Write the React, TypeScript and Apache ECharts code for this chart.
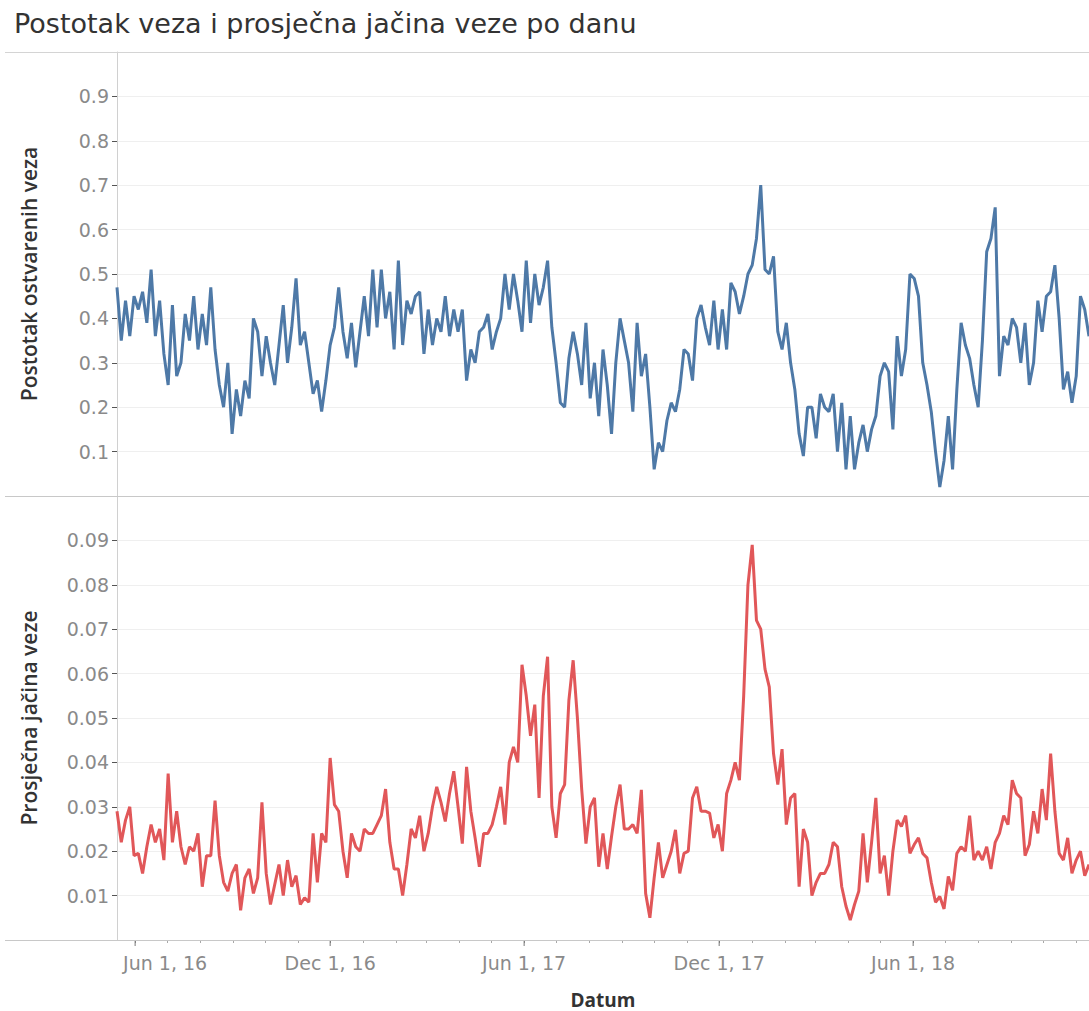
import React, { useEffect, useRef } from "react";
import * as echarts from "echarts";

const TITLE = "Postotak veza i prosječna jačina veze po danu";
const TOP_AXIS_NAME = "Postotak ostvarenih veza";
const BOTTOM_AXIS_NAME = "Prosječna jačina veze";
const X_AXIS_NAME = "Datum";

// Samples every 4 days starting at START_DATE
const START_DATE = "2016-05-15";
const END_DATE = "2018-11-13";
const STEP_DAYS = 4;

const percentConnections = [
  0.47, 0.35, 0.44, 0.36, 0.45, 0.42, 0.46, 0.39, 0.51, 0.36,
  0.44, 0.32, 0.25, 0.43, 0.27, 0.30, 0.41, 0.35, 0.45, 0.33,
  0.41, 0.34, 0.47, 0.33, 0.25, 0.20, 0.30, 0.14, 0.24, 0.18,
  0.26, 0.22, 0.40, 0.37, 0.27, 0.36, 0.30, 0.25, 0.34, 0.43,
  0.30, 0.38, 0.49, 0.34, 0.37, 0.30, 0.23, 0.26, 0.19, 0.26,
  0.34, 0.38, 0.47, 0.37, 0.31, 0.39, 0.29, 0.37, 0.45, 0.36,
  0.51, 0.38, 0.51, 0.40, 0.46, 0.33, 0.53, 0.34, 0.44, 0.41,
  0.45, 0.46, 0.32, 0.42, 0.34, 0.40, 0.37, 0.45, 0.36, 0.42,
  0.37, 0.42, 0.26, 0.33, 0.30, 0.37, 0.38, 0.41, 0.33, 0.37,
  0.40, 0.50, 0.42, 0.50, 0.44, 0.37, 0.53, 0.39, 0.50, 0.43,
  0.47, 0.53, 0.38, 0.30, 0.21, 0.20, 0.31, 0.37, 0.32, 0.25,
  0.39, 0.22, 0.30, 0.18, 0.33, 0.25, 0.14, 0.30, 0.40, 0.35,
  0.30, 0.19, 0.39, 0.27, 0.32, 0.20, 0.06, 0.12, 0.10, 0.17,
  0.21, 0.19, 0.24, 0.33, 0.32, 0.26, 0.40, 0.43, 0.38, 0.34,
  0.44, 0.33, 0.42, 0.33, 0.48, 0.46, 0.41, 0.45, 0.50, 0.52,
  0.58, 0.70, 0.51, 0.50, 0.54, 0.37, 0.33, 0.39, 0.30, 0.24,
  0.14, 0.09, 0.20, 0.20, 0.13, 0.23, 0.20, 0.19, 0.23, 0.10,
  0.21, 0.06, 0.18, 0.06, 0.12, 0.16, 0.10, 0.15, 0.18, 0.27,
  0.30, 0.28, 0.15, 0.36, 0.27, 0.33, 0.50, 0.49, 0.45, 0.30,
  0.25, 0.19, 0.10, 0.02, 0.08, 0.18, 0.06, 0.24, 0.39, 0.34,
  0.31, 0.25, 0.20, 0.35, 0.55, 0.58, 0.65, 0.27, 0.36, 0.34,
  0.40, 0.38, 0.30, 0.39, 0.25, 0.30, 0.44, 0.37, 0.45, 0.46,
  0.52, 0.40, 0.24, 0.28, 0.21, 0.27, 0.45, 0.42, 0.36,
];

const avgStrength = [
  0.029, 0.022, 0.027, 0.030, 0.019, 0.0195, 0.015, 0.021, 0.026, 0.022,
  0.025, 0.018, 0.0375, 0.022, 0.029, 0.021, 0.017, 0.021, 0.020, 0.024,
  0.012, 0.019, 0.019, 0.0314, 0.019, 0.013, 0.011, 0.015, 0.017, 0.0067,
  0.014, 0.016, 0.0105, 0.014, 0.031, 0.015, 0.008, 0.0125, 0.017, 0.010,
  0.018, 0.012, 0.0145, 0.008, 0.0095, 0.0085, 0.024, 0.013, 0.024, 0.022,
  0.041, 0.0305, 0.029, 0.020, 0.014, 0.024, 0.021, 0.020, 0.025, 0.024,
  0.024, 0.026, 0.028, 0.034, 0.022, 0.016, 0.016, 0.010, 0.017, 0.025,
  0.023, 0.028, 0.020, 0.024, 0.030, 0.0345, 0.031, 0.0267, 0.033, 0.038,
  0.030, 0.0217, 0.039, 0.029, 0.023, 0.0165, 0.024, 0.024, 0.026, 0.030,
  0.0345, 0.026, 0.040, 0.0435, 0.040, 0.062, 0.055, 0.046, 0.053, 0.032,
  0.055, 0.0638, 0.030, 0.023, 0.033, 0.035, 0.054, 0.063, 0.050, 0.034,
  0.0217, 0.030, 0.032, 0.0165, 0.024, 0.016, 0.0233, 0.030, 0.035, 0.025,
  0.025, 0.026, 0.024, 0.0338, 0.0105, 0.005, 0.014, 0.022, 0.014, 0.017,
  0.020, 0.0248, 0.015, 0.0195, 0.020, 0.032, 0.0345, 0.029, 0.029, 0.0286,
  0.023, 0.026, 0.020, 0.033, 0.036, 0.040, 0.036, 0.055, 0.080, 0.089,
  0.072, 0.070, 0.061, 0.057, 0.042, 0.035, 0.043, 0.026, 0.032, 0.033,
  0.012, 0.025, 0.022, 0.010, 0.013, 0.015, 0.015, 0.017, 0.022, 0.021,
  0.012, 0.0076, 0.0045, 0.008, 0.011, 0.024, 0.013, 0.022, 0.032, 0.015,
  0.019, 0.010, 0.020, 0.027, 0.0256, 0.028, 0.0195, 0.0215, 0.023, 0.0195,
  0.0185, 0.013, 0.0085, 0.0098, 0.007, 0.0143, 0.0112, 0.0195, 0.021, 0.020,
  0.028, 0.018, 0.020, 0.018, 0.021, 0.016, 0.022, 0.024, 0.028, 0.026,
  0.036, 0.033, 0.032, 0.019, 0.0215, 0.029, 0.024, 0.034, 0.027, 0.042,
  0.029, 0.0195, 0.018, 0.023, 0.015, 0.018, 0.020, 0.0145, 0.017,
];

const TOP_TICK_LABELS = [0.1, 0.2, 0.3, 0.4, 0.5, 0.6, 0.7, 0.8, 0.9];
const BOTTOM_TICK_LABELS = [0.01, 0.02, 0.03, 0.04, 0.05, 0.06, 0.07, 0.08, 0.09];
const MAJOR_X_TICKS = ["2016-06-01", "2016-12-01", "2017-06-01", "2017-12-01", "2018-06-01"];
const MONTHS = ["Jan", "Feb", "Mar", "Apr", "May", "Jun", "Jul", "Aug", "Sep", "Oct", "Nov", "Dec"];

const DAY = 86400000;
const START_TS = Date.parse(START_DATE + "T00:00:00Z");
const END_TS = Date.parse(END_DATE + "T00:00:00Z");
const FIRST_MAJOR_TS = Date.parse(MAJOR_X_TICKS[0] + "T00:00:00Z");
const DATES = percentConnections.map((_, i) => START_TS + i * STEP_DAYS * DAY);

const BLUE = "#4e79a7";
const RED = "#e15759";
const TICK_FONT = "DejaVu Sans";
const LABEL_COLOR = "#8a8a8a";

export default function App() {
  const ref = useRef<HTMLDivElement>(null);

  useEffect(() => {
    if (!ref.current) return;
    const chart = echarts.init(ref.current, undefined, { renderer: "svg" });

    const yLabelStyle = {
      color: LABEL_COLOR,
      fontFamily: TICK_FONT,
      fontSize: 19,
      margin: 8,
    };
    const nameStyle = {
      color: "#333333",
      fontFamily: "Open Sans",
      fontWeight: 600 as any,
      fontSize: 21,
    };

    const option: any = {
      animation: false,
      useUTC: true,
      backgroundColor: "#ffffff",
      title: {
        text: TITLE,
        left: 9,
        top: 5,
        textStyle: {
          fontFamily: TICK_FONT,
          fontSize: 27,
          fontWeight: "normal",
          color: "#333333",
        },
      },
      grid: [
        { left: 117, top: 52, width: 972, height: 444 },
        { left: 117, top: 496, width: 972, height: 444 },
      ],
      xAxis: [
        {
          type: "time",
          gridIndex: 0,
          min: START_TS,
          max: END_TS,
          show: false,
          splitLine: { show: false },
        },
        {
          type: "time",
          gridIndex: 1,
          min: START_TS,
          max: END_TS,
          minInterval: 32 * DAY,
          maxInterval: 32 * DAY,
          axisLine: { show: true, lineStyle: { color: "#d0d0d0", width: 1 } },
          axisTick: { show: true, length: 3, lineStyle: { color: "#a8a8a8" } },
          splitLine: { show: false },
          axisLabel: {
            color: LABEL_COLOR,
            fontFamily: TICK_FONT,
            fontSize: 19,
            margin: 13,
            showMinLabel: false,
            showMaxLabel: false,
            rich: {
              shifted: {
                color: LABEL_COLOR,
                fontFamily: TICK_FONT,
                fontSize: 19,
                padding: [0, 0, 0, 60],
              },
            },
            formatter: (value: number) => {
              const d = new Date(value);
              const m = d.getUTCMonth();
              if (d.getUTCDate() === 1 && (m === 5 || m === 11)) {
                const yy = String(d.getUTCFullYear()).slice(2);
                const txt = `${MONTHS[m]} 1, ${yy}`;
                // first label is pushed inside the pane, as in the original
                if (value === FIRST_MAJOR_TS) return `{shifted|${txt}}`;
                return txt;
              }
              return "";
            },
          },
          name: X_AXIS_NAME,
          nameLocation: "middle",
          nameGap: 50,
          nameTextStyle: { ...nameStyle, fontWeight: 700, fontSize: 19 },
        },
      ],
      yAxis: [
        {
          type: "value",
          gridIndex: 0,
          min: 0,
          max: 1,
          interval: 0.1,
          axisLine: { show: true, lineStyle: { color: "#d0d0d0", width: 1 } },
          axisTick: {
            show: true,
            length: 5,
            lineStyle: { color: "#555555" },
            customValues: [0, ...TOP_TICK_LABELS],
          },
          axisLabel: {
            ...yLabelStyle,
            customValues: TOP_TICK_LABELS,
            formatter: (v: number) => v.toFixed(1),
          },
          splitLine: { show: true, lineStyle: { color: "#efefef", width: 1 } },
          name: TOP_AXIS_NAME,
          nameLocation: "middle",
          nameRotate: 90,
          nameGap: 78,
          nameTextStyle: nameStyle,
        },
        {
          type: "value",
          gridIndex: 1,
          min: 0,
          max: 0.1,
          interval: 0.01,
          axisLine: { show: true, lineStyle: { color: "#d0d0d0", width: 1 } },
          axisTick: {
            show: true,
            length: 5,
            lineStyle: { color: "#555555" },
            customValues: BOTTOM_TICK_LABELS,
          },
          axisLabel: {
            ...yLabelStyle,
            customValues: BOTTOM_TICK_LABELS,
            formatter: (v: number) => v.toFixed(2),
          },
          splitLine: { show: true, lineStyle: { color: "#efefef", width: 1 } },
          name: BOTTOM_AXIS_NAME,
          nameLocation: "middle",
          nameRotate: 90,
          nameGap: 78,
          nameTextStyle: nameStyle,
        },
      ],
      graphic: [
        { type: "line", z: 100, shape: { x1: 5, y1: 52.5, x2: 1089, y2: 52.5 }, style: { stroke: "#d4d4d4", lineWidth: 1 } },
        { type: "line", z: 100, shape: { x1: 5, y1: 496.5, x2: 1089, y2: 496.5 }, style: { stroke: "#c8c8c8", lineWidth: 1 } },
        { type: "line", z: 100, shape: { x1: 5, y1: 940.5, x2: 1089, y2: 940.5 }, style: { stroke: "#c8c8c8", lineWidth: 1 } },
      ],
      series: [
        {
          type: "line",
          xAxisIndex: 0,
          yAxisIndex: 0,
          data: DATES.map((d, i) => [d, percentConnections[i]]),
          showSymbol: false,
          symbol: "none",
          lineStyle: { color: BLUE, width: 3 },
          itemStyle: { color: BLUE },
          emphasis: { disabled: true },
          silent: true,
        },
        {
          type: "line",
          xAxisIndex: 1,
          yAxisIndex: 1,
          data: DATES.map((d, i) => [d, avgStrength[i]]),
          showSymbol: false,
          symbol: "none",
          lineStyle: { color: RED, width: 3 },
          itemStyle: { color: RED },
          emphasis: { disabled: true },
          silent: true,
        },
        {
          type: "scatter",
          xAxisIndex: 1,
          yAxisIndex: 1,
          data: MAJOR_X_TICKS.map((d) => [Date.parse(d + "T00:00:00Z"), 0]),
          symbol: "rect",
          symbolSize: [1, 6],
          symbolOffset: [0, 3],
          itemStyle: { color: "#555555" },
          clip: false,
          silent: true,
          z: 5,
        },
      ],
    };

    chart.setOption(option);
    return () => chart.dispose();
  }, []);

  return (
    <div
      ref={ref}
      style={{ position: "absolute", left: 0, top: 0, width: 1089, height: 1011, background: "#fff" }}
    />
  );
}
